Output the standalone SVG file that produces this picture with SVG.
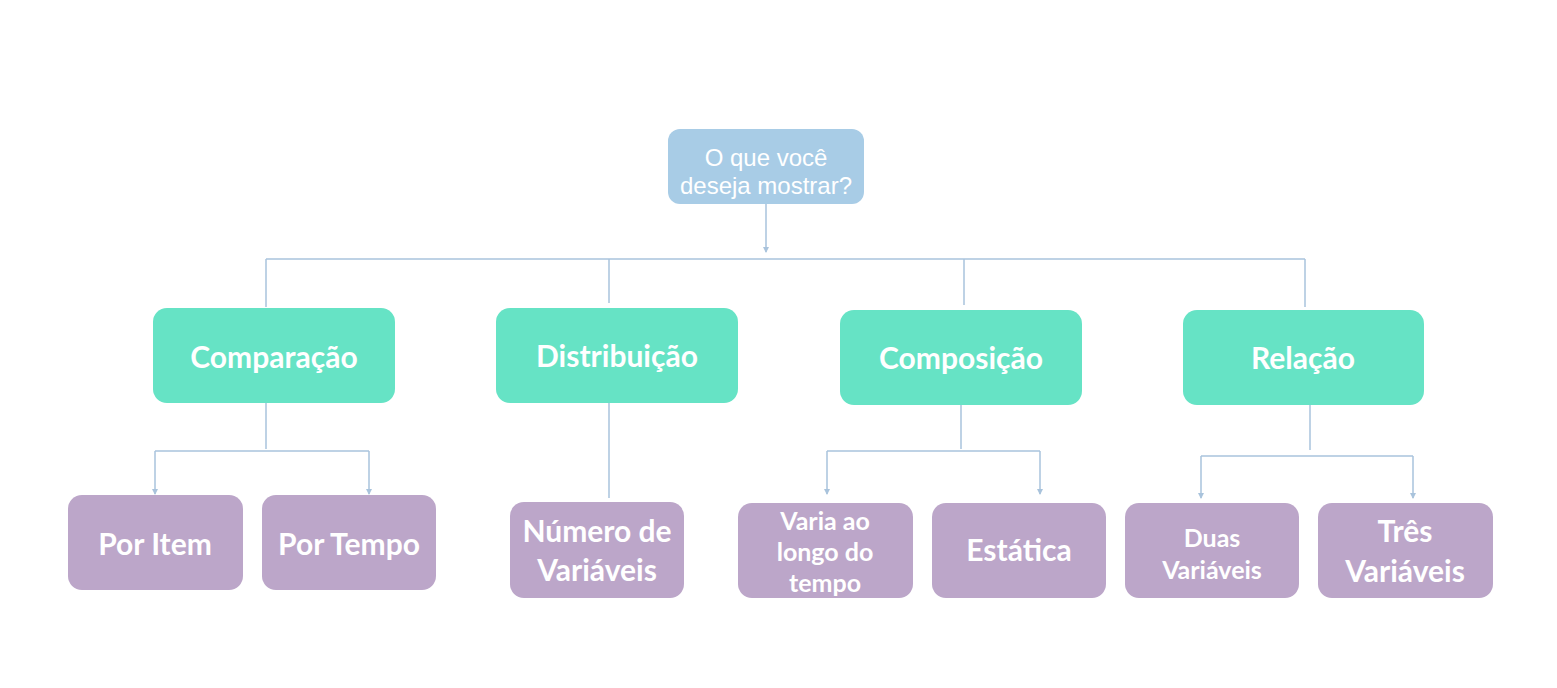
<svg xmlns="http://www.w3.org/2000/svg" width="1557" height="688" viewBox="0 0 1557 688">
<defs>
<style>
.root{fill:#a8cce6}
.cat{fill:#66e3c5}
.leaf{fill:#bca6c9}
.t{fill:#ffffff;text-anchor:middle;font-family:Lato,"Open Sans",sans-serif;font-weight:bold}
.tr{fill:#ffffff;text-anchor:middle;font-family:"Liberation Sans",Arial,sans-serif;font-size:24px}
.c{fill:none;stroke:#a9c3dc;stroke-width:1.5}
</style>
<marker id="ah" viewBox="0 0 6 6" refX="5" refY="3" markerWidth="4" markerHeight="4" orient="auto">
<path d="M0,0 L6,3 L0,6 z" fill="#a9c3dc"/>
</marker>
</defs>
<rect width="1557" height="688" fill="#ffffff"/>
<g id="connectors">
<path class="c" d="M766,204 V252" marker-end="url(#ah)"/>
<path class="c" d="M266,259 H1305"/>
<path class="c" d="M266,259 V307"/>
<path class="c" d="M609,259 V303"/>
<path class="c" d="M964,259 V305"/>
<path class="c" d="M1305,259 V307"/>
<path class="c" d="M266,403 V449"/>
<path class="c" d="M155,451 H369"/>
<path class="c" d="M155,451 V494" marker-end="url(#ah)"/>
<path class="c" d="M369,451 V494" marker-end="url(#ah)"/>
<path class="c" d="M609,403 V498"/>
<path class="c" d="M961,405 V449"/>
<path class="c" d="M827,451 H1040"/>
<path class="c" d="M827,451 V494" marker-end="url(#ah)"/>
<path class="c" d="M1040,451 V494" marker-end="url(#ah)"/>
<path class="c" d="M1310,405 V450"/>
<path class="c" d="M1201,456 H1413"/>
<path class="c" d="M1201,456 V498" marker-end="url(#ah)"/>
<path class="c" d="M1413,456 V498" marker-end="url(#ah)"/>
</g>
<g id="root">
<rect class="root" x="668" y="129" width="196" height="75" rx="12"/>
<text class="tr" x="766" y="166">O que você</text>
<text class="tr" x="766" y="194">deseja mostrar?</text>
</g>
<g id="comparacao">
<rect class="cat" x="153" y="308" width="242" height="95" rx="14"/>
<text class="t" x="274" y="368" font-size="30">Comparação</text>
</g>
<g id="distribuicao">
<rect class="cat" x="496" y="308" width="242" height="95" rx="14"/>
<text class="t" x="617" y="367" font-size="30">Distribuição</text>
</g>
<g id="composicao">
<rect class="cat" x="840" y="310" width="242" height="95" rx="14"/>
<text class="t" x="961" y="369" font-size="30">Composição</text>
</g>
<g id="relacao">
<rect class="cat" x="1183" y="310" width="241" height="95" rx="14"/>
<text class="t" x="1303" y="369" font-size="30">Relação</text>
</g>
<g id="por-item">
<rect class="leaf" x="68" y="495" width="175" height="95" rx="14"/>
<text class="t" x="155" y="555" font-size="30">Por Item</text>
</g>
<g id="por-tempo">
<rect class="leaf" x="262" y="495" width="174" height="95" rx="14"/>
<text class="t" x="349" y="555" font-size="30">Por Tempo</text>
</g>
<g id="numero-variaveis">
<rect class="leaf" x="510" y="502" width="174" height="96" rx="14"/>
<text class="t" x="597" y="542" font-size="30">Número de</text>
<text class="t" x="597" y="581" font-size="30">Variáveis</text>
</g>
<g id="varia-tempo">
<rect class="leaf" x="738" y="503" width="175" height="95" rx="14"/>
<text class="t" x="825" y="530" font-size="25">Varia ao</text>
<text class="t" x="825" y="561" font-size="25">longo do</text>
<text class="t" x="825" y="592" font-size="25">tempo</text>
</g>
<g id="estatica">
<rect class="leaf" x="932" y="503" width="174" height="95" rx="14"/>
<text class="t" x="1019" y="561" font-size="30">Estática</text>
</g>
<g id="duas-variaveis">
<rect class="leaf" x="1125" y="503" width="174" height="95" rx="14"/>
<text class="t" x="1212" y="547" font-size="25">Duas</text>
<text class="t" x="1212" y="579" font-size="25">Variáveis</text>
</g>
<g id="tres-variaveis">
<rect class="leaf" x="1318" y="503" width="175" height="95" rx="14"/>
<text class="t" x="1405" y="542" font-size="30">Três</text>
<text class="t" x="1405" y="582" font-size="30">Variáveis</text>
</g>
</svg>
